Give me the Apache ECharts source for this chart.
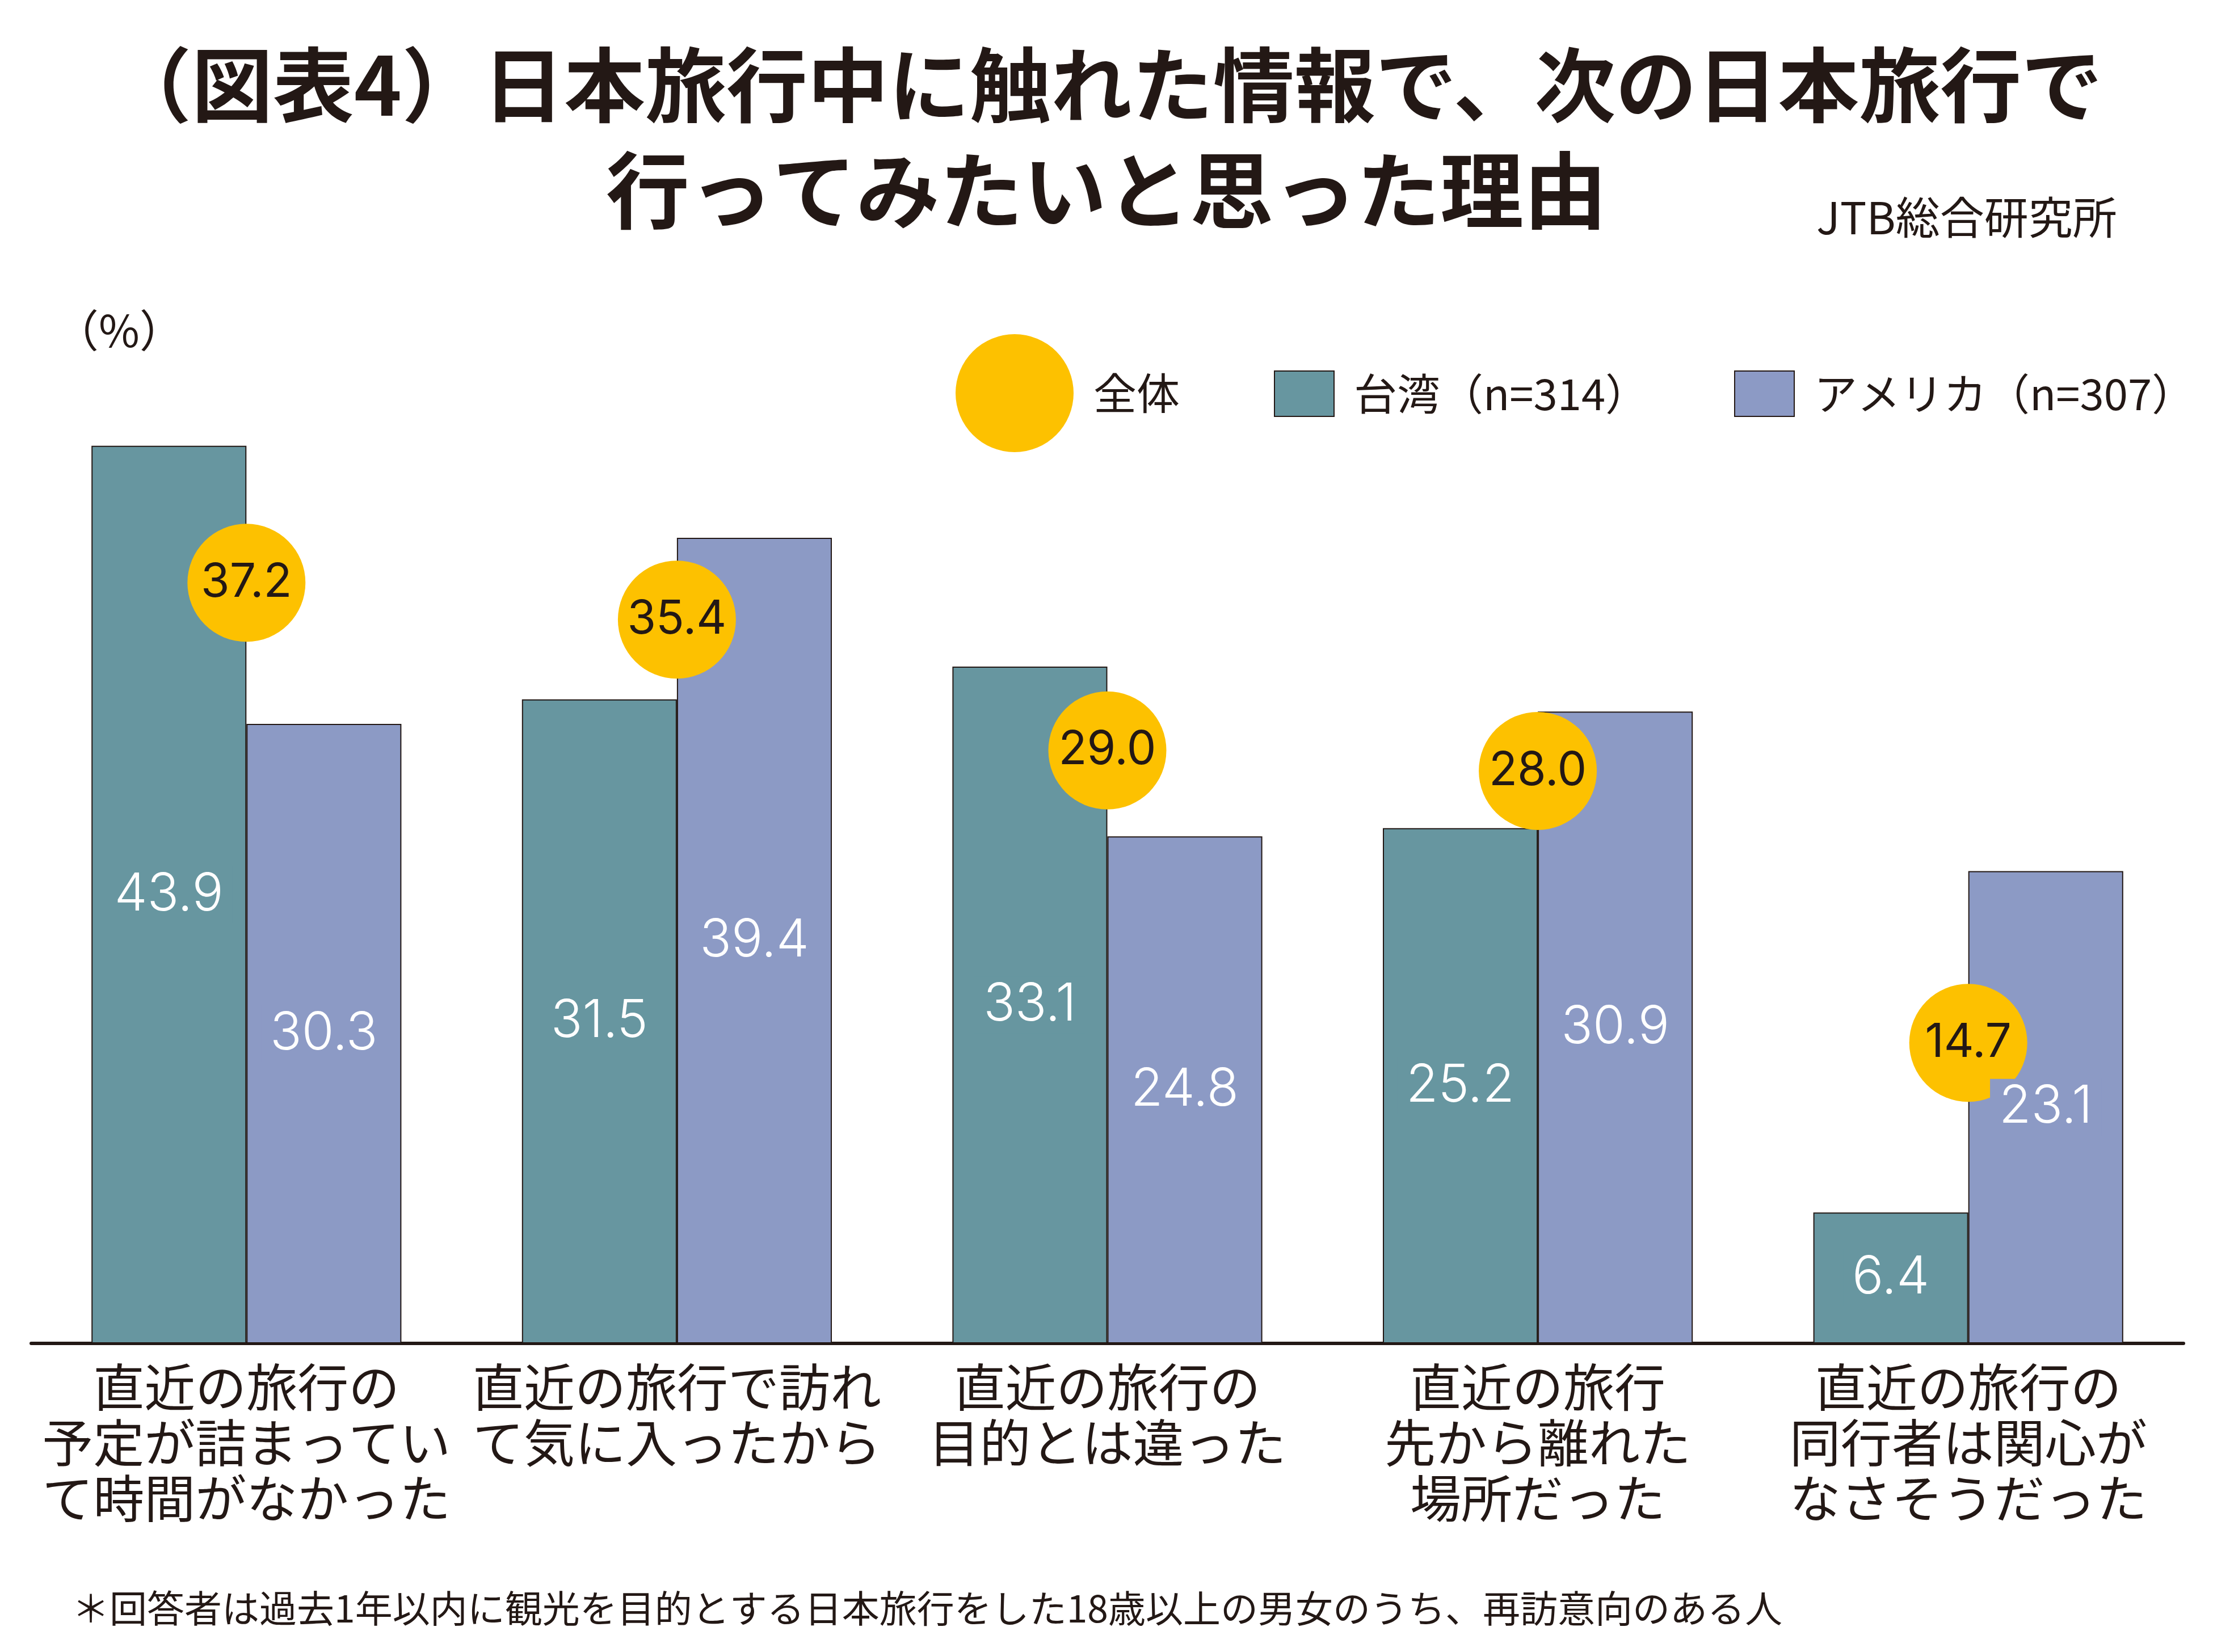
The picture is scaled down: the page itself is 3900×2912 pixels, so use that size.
<!DOCTYPE html>
<html>
<head>
<meta charset="utf-8">
<script src="https://cdn.jsdelivr.net/npm/echarts@6/dist/echarts.min.js"></script>
<style>
html,body{margin:0;padding:0;background:#fff;}
#c{width:3900px;height:2912px;}
</style>
</head>
<body>
<div id="c"></div>
<script>
const categories = [
  '直近の旅行の\n予定が詰まってい\nて時間がなかった',
  '直近の旅行で訪れ\nて気に入ったから',
  '直近の旅行の\n目的とは違った',
  '直近の旅行\n先から離れた\n場所だった',
  '直近の旅行の\n同行者は関心が\nなさそうだった'
];
const overallValues = [37.2, 35.4, 29.0, 28.0, 14.7];
const taiwanValues = [43.9, 31.5, 33.1, 25.2, 6.4];
const usaValues = [30.3, 39.4, 24.8, 30.9, 23.1];
const seriesNames = ['全体', '台湾（n=314）', 'アメリカ（n=307）'];

const INK = '#231815';
const TW = '#6796a0';
const US = '#8c9ac5';
const YEL = '#fdc100';
const JP = '"Noto Sans CJK JP", "Noto Sans", sans-serif';
const NUM = 'Inter, "Noto Sans", sans-serif';

const chart = echarts.init(document.getElementById('c'), null, {renderer: 'canvas'});
const fmt = p => Number(p.value).toFixed(1);

function barLabel(bg) {
  return {
    show: true, position: 'inside', formatter: fmt,
    color: '#ffffff', fontFamily: NUM, fontWeight: 300, fontSize: 92,
    backgroundColor: bg, padding: [6, 16, 2, 16]
  };
}

const legendText = {color: INK, fontFamily: JP, fontSize: 76, padding: [0, 0, 0, 30]};

chart.setOption({
  animation: false,
  backgroundColor: '#ffffff',
  title: [
    {text: '（図表4）日本旅行中に触れた情報で、次の日本旅行で', left: 'center', top: 78, padding: 0,
     textStyle: {fontFamily: JP, fontWeight: 'bold', fontSize: 143, color: INK}},
    {text: '行ってみたいと思った理由', left: 'center', top: 262, padding: 0,
     textStyle: {fontFamily: JP, fontWeight: 'bold', fontSize: 147, color: INK}},
    {text: 'JTB総合研究所', left: 3201, top: 344, padding: 0,
     textStyle: {fontFamily: JP, fontWeight: 'normal', fontSize: 78, color: INK}},
    {text: '（%）', left: 96, top: 543, padding: 0,
     textStyle: {fontFamily: JP, fontWeight: 'normal', fontSize: 78, color: INK}},
    {text: '＊回答者は過去1年以内に観光を目的とする日本旅行をした18歳以上の男女のうち、再訪意向のある人',
     left: 127, top: 2802, padding: 0,
     textStyle: {fontFamily: JP, fontWeight: 'normal', fontSize: 66, color: INK}}
  ],
  legend: [
    {data: [{name: seriesNames[0], icon: 'circle'}], left: 1684, top: 589, padding: 0,
     itemWidth: 208, itemHeight: 208, textStyle: legendText, selectedMode: false},
    {data: [{name: seriesNames[1], icon: 'rect'}], left: 2245, top: 653, padding: 0,
     itemWidth: 105, itemHeight: 80, textStyle: legendText, selectedMode: false},
    {data: [{name: seriesNames[2], icon: 'rect'}], left: 3056, top: 653, padding: 0,
     itemWidth: 105, itemHeight: 80, textStyle: legendText, selectedMode: false}
  ],
  grid: {left: 55, right: 52, top: 566, bottom: 544, containLabel: false},
  xAxis: [
    {type: 'category', data: categories,
     axisLine: {show: true, lineStyle: {color: INK, width: 6}},
     axisTick: {show: false},
     axisLabel: {interval: 0, margin: 28, color: INK, fontFamily: JP, fontSize: 90, lineHeight: 98, align: 'center'}},
    {type: 'category', data: categories, show: false}
  ],
  yAxis: {type: 'value', min: 0, max: 50, show: false, splitLine: {show: false}},
  series: [
    {name: seriesNames[1], type: 'bar', data: taiwanValues, barGap: '0%', barCategoryGap: '28%',
     itemStyle: {color: TW, borderColor: INK, borderWidth: 2}, label: {show: false}, z: 2},
    {name: seriesNames[2], type: 'bar', data: usaValues, barGap: '0%', barCategoryGap: '28%',
     itemStyle: {color: US, borderColor: INK, borderWidth: 2}, label: {show: false}, z: 2},
    {name: seriesNames[0], type: 'scatter', data: overallValues, symbol: 'circle', symbolSize: 208,
     itemStyle: {color: YEL, opacity: 1}, z: 3,
     label: {show: true, position: 'inside', formatter: fmt, color: INK, fontFamily: NUM, fontWeight: 400, fontSize: 82}},
    {name: 'tw-label', type: 'bar', xAxisIndex: 1, data: taiwanValues, barGap: '0%', barCategoryGap: '28%',
     itemStyle: {color: 'rgba(0,0,0,0)'}, label: barLabel(TW), z: 10, silent: true},
    {name: 'us-label', type: 'bar', xAxisIndex: 1, data: usaValues, barGap: '0%', barCategoryGap: '28%',
     itemStyle: {color: 'rgba(0,0,0,0)'}, label: barLabel(US), z: 10, silent: true}
  ]
});
</script>
</body>
</html>
